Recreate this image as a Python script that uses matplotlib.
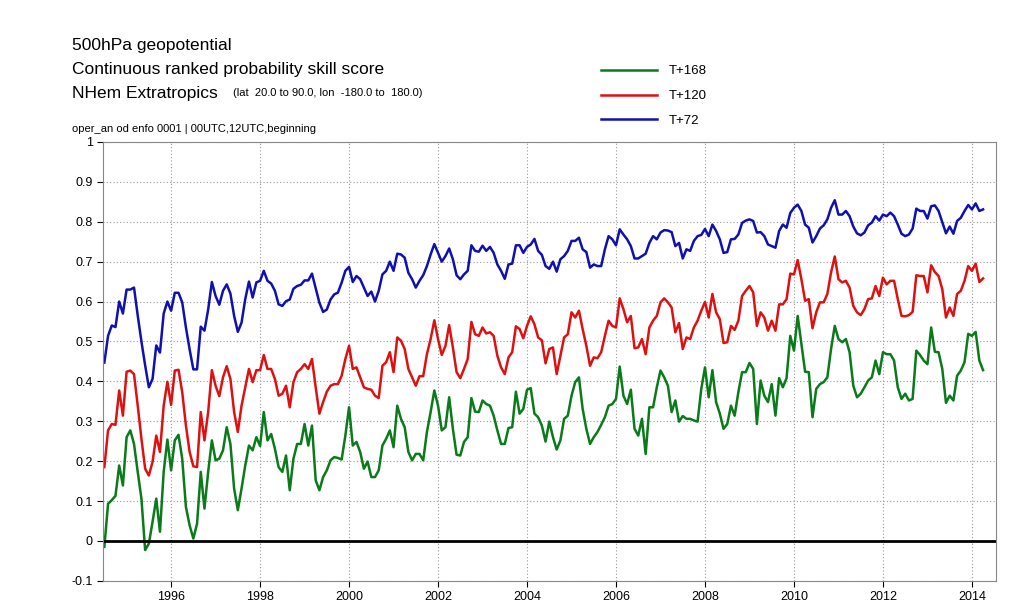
import numpy as np
import matplotlib
matplotlib.use("Agg")
import matplotlib.pyplot as plt
from matplotlib.lines import Line2D

plt.rcParams['font.family'] = ['Liberation Sans', 'DejaVu Sans']

# ================= Data (monthly, from Jul 1994) =================
start_year = 1994.5

t72 = [0.447, 0.514, 0.54, 0.536, 0.60, 0.57, 0.63, 0.63, 0.635, 0.565, 0.50, 0.44, 0.385, 0.406, 0.49, 0.472,
       0.57, 0.60, 0.577, 0.622, 0.622, 0.598, 0.535, 0.48, 0.43, 0.43, 0.537, 0.527, 0.58, 0.649, 0.614, 0.592,
       0.627, 0.643, 0.62, 0.564, 0.524, 0.547, 0.606, 0.65, 0.61, 0.648, 0.652, 0.677, 0.652, 0.645, 0.627, 0.593,
       0.589, 0.601, 0.605, 0.632, 0.639, 0.642, 0.653, 0.653, 0.67, 0.633, 0.597, 0.574, 0.58, 0.605, 0.618,
       0.6225, 0.6475, 0.677, 0.687, 0.649, 0.664, 0.656, 0.635, 0.614, 0.625, 0.60, 0.627, 0.668, 0.677, 0.70,
       0.677, 0.72, 0.718, 0.71, 0.672, 0.656, 0.635, 0.652, 0.666, 0.689, 0.718, 0.744, 0.722, 0.70, 0.714, 0.733,
       0.706, 0.666, 0.656, 0.668, 0.677, 0.741, 0.727, 0.725, 0.74, 0.727, 0.737, 0.722, 0.693, 0.677, 0.657,
       0.693, 0.695, 0.741, 0.741, 0.722, 0.737, 0.743, 0.757, 0.727, 0.717, 0.689, 0.682, 0.70, 0.675, 0.706, 0.714,
       0.727, 0.752, 0.752, 0.76, 0.731, 0.724, 0.685, 0.693, 0.689, 0.689, 0.731, 0.764, 0.756, 0.741, 0.781,
       0.768, 0.756, 0.739, 0.708, 0.708, 0.714, 0.72, 0.747, 0.764, 0.756, 0.773, 0.779, 0.778, 0.774, 0.739,
       0.747, 0.708, 0.731, 0.727, 0.752, 0.764, 0.767, 0.782, 0.764, 0.793, 0.777, 0.756, 0.722, 0.724, 0.756,
       0.757, 0.768, 0.797, 0.803, 0.806, 0.802, 0.773, 0.774, 0.764, 0.743, 0.739, 0.735, 0.777, 0.793, 0.785,
       0.822, 0.835,
       0.843, 0.827, 0.793, 0.785, 0.748, 0.764, 0.783, 0.791, 0.806, 0.835, 0.854, 0.818, 0.818, 0.827, 0.814,
       0.788, 0.771, 0.766, 0.773, 0.791, 0.798, 0.814, 0.803, 0.818, 0.814, 0.823, 0.814, 0.793, 0.77, 0.764,
       0.768, 0.783, 0.833, 0.827, 0.827, 0.808, 0.839, 0.841, 0.827, 0.799, 0.771, 0.788, 0.77, 0.802, 0.81,
       0.827, 0.842, 0.831, 0.846, 0.827, 0.831]

t120 = [0.185, 0.277, 0.293, 0.291, 0.377, 0.314, 0.424, 0.427, 0.418, 0.339, 0.256, 0.181, 0.164, 0.198, 0.264,
        0.223, 0.339, 0.399, 0.341, 0.427, 0.429, 0.373, 0.289, 0.223, 0.187, 0.185, 0.323, 0.252, 0.323, 0.428,
        0.389, 0.363, 0.41, 0.438, 0.406, 0.323, 0.273, 0.339, 0.385, 0.431, 0.398, 0.428, 0.428, 0.466, 0.431,
        0.431, 0.406, 0.364, 0.369, 0.389, 0.335, 0.398, 0.423, 0.431, 0.443, 0.431, 0.456, 0.385, 0.319, 0.348,
        0.374, 0.389, 0.393,
        0.393, 0.414, 0.456, 0.489, 0.431, 0.435, 0.41, 0.385, 0.381, 0.379, 0.364, 0.358, 0.439, 0.448, 0.473,
        0.423, 0.51, 0.502, 0.481, 0.431, 0.41, 0.389, 0.413, 0.413, 0.468, 0.506, 0.553, 0.506, 0.466, 0.489,
        0.541, 0.485, 0.423, 0.408, 0.431, 0.456, 0.549, 0.518, 0.514, 0.535, 0.52, 0.523, 0.514, 0.464, 0.435,
        0.418, 0.46, 0.473, 0.538, 0.531, 0.508, 0.539, 0.563, 0.543, 0.51, 0.503, 0.445, 0.481, 0.485, 0.418,
        0.464, 0.51,
        0.518, 0.573, 0.56, 0.577, 0.531, 0.489, 0.439, 0.46, 0.458, 0.473, 0.514, 0.552, 0.539, 0.535, 0.608,
        0.581, 0.548, 0.564, 0.483, 0.485, 0.506, 0.468, 0.535, 0.552, 0.564, 0.598, 0.608, 0.598, 0.585, 0.523,
        0.546, 0.481, 0.51, 0.506, 0.535, 0.552, 0.577, 0.599, 0.56, 0.619, 0.573, 0.556, 0.496, 0.498, 0.539,
        0.529, 0.552, 0.614, 0.627, 0.639, 0.623, 0.539, 0.573, 0.56, 0.527, 0.552, 0.527, 0.593, 0.593, 0.606,
        0.67, 0.668,
        0.704, 0.656, 0.602, 0.606, 0.533, 0.573, 0.598, 0.598, 0.619, 0.673, 0.713, 0.656, 0.648, 0.652, 0.635,
        0.589, 0.573, 0.566, 0.581, 0.606, 0.608, 0.639, 0.614, 0.66, 0.643, 0.652, 0.652, 0.606, 0.564, 0.563,
        0.566, 0.574, 0.666, 0.664, 0.664, 0.623, 0.691, 0.674, 0.664, 0.631, 0.56, 0.585, 0.564, 0.619, 0.627,
        0.652, 0.689, 0.677, 0.695, 0.649, 0.658]

t168 = [-0.015, 0.093, 0.102, 0.113, 0.189, 0.139, 0.26, 0.277, 0.243, 0.173, 0.106, -0.023, -0.007, 0.048,
        0.106, 0.023, 0.173, 0.254, 0.177, 0.252, 0.266, 0.206, 0.085, 0.039, 0.006, 0.043, 0.173, 0.081, 0.173,
        0.252, 0.202, 0.206, 0.227, 0.285, 0.243, 0.131, 0.077, 0.131, 0.189, 0.239, 0.227, 0.26, 0.238, 0.323,
        0.252, 0.268, 0.231, 0.185, 0.173, 0.214, 0.127, 0.206, 0.243, 0.243, 0.293, 0.239, 0.289, 0.152, 0.127,
        0.16, 0.177, 0.202, 0.21,
        0.208, 0.204, 0.264, 0.335, 0.239, 0.248, 0.223, 0.181, 0.199, 0.16, 0.16, 0.177, 0.239, 0.256, 0.277,
        0.235, 0.339, 0.306, 0.285, 0.223, 0.202, 0.218, 0.218, 0.202, 0.273, 0.323, 0.377, 0.339, 0.277, 0.285,
        0.36, 0.281, 0.216, 0.214, 0.248, 0.26, 0.358, 0.324, 0.323, 0.352, 0.343, 0.339, 0.314, 0.277, 0.243,
        0.243, 0.283, 0.285, 0.374, 0.319, 0.331, 0.379, 0.383, 0.319, 0.31, 0.289, 0.249, 0.299, 0.26, 0.229,
        0.252, 0.306,
        0.314, 0.364, 0.398, 0.41, 0.331, 0.281, 0.243, 0.26, 0.273, 0.291, 0.31, 0.339, 0.343, 0.356, 0.437,
        0.364, 0.343, 0.379, 0.281, 0.264, 0.306, 0.218, 0.335, 0.335, 0.385, 0.427, 0.41, 0.389, 0.323, 0.352,
        0.299, 0.313, 0.306, 0.306, 0.302, 0.299, 0.381, 0.435, 0.36, 0.428, 0.348, 0.319, 0.281, 0.293, 0.339,
        0.314, 0.373, 0.423, 0.423, 0.446, 0.431, 0.293, 0.402, 0.364, 0.348, 0.393, 0.314, 0.408, 0.385, 0.408,
        0.514, 0.477,
        0.564, 0.493, 0.424, 0.423, 0.31, 0.381, 0.393, 0.398, 0.41, 0.481, 0.539, 0.506, 0.498, 0.506, 0.473,
        0.389, 0.36, 0.369, 0.385, 0.402, 0.41, 0.452, 0.418, 0.473, 0.468, 0.468, 0.452, 0.385, 0.356, 0.369,
        0.352, 0.356, 0.477, 0.466, 0.452, 0.443, 0.535, 0.474, 0.473, 0.431, 0.346, 0.364, 0.352, 0.414, 0.427,
        0.448, 0.519, 0.514, 0.524, 0.452, 0.428]

series = [("T+168", t168, "#0a7a1a"), ("T+120", t120, "#dd1111"), ("T+72", t72, "#1010b0")]

# ================= Plot =================
fig = plt.figure(figsize=(10.2, 6.12), dpi=100)
ax = fig.add_axes([0.101, 0.051, 0.875, 0.717])

for name, vals, col in series:
    x = start_year + np.arange(len(vals)) / 12.0
    ax.plot(x, vals, color=col, lw=1.8, label=name)

ax.axhline(0, color="black", lw=2)
ax.set_xlim(1994.47, 2014.53)
ax.set_ylim(-0.1, 1.0)
ax.set_xticks(np.arange(1996, 2015, 2))
ax.set_yticks(np.arange(-0.1, 1.01, 0.1))
ax.set_yticklabels(["-0.1", "0", "0.1", "0.2", "0.3", "0.4", "0.5", "0.6", "0.7", "0.8", "0.9", "1"])
ax.tick_params(labelsize=9, length=4)
ax.grid(True, linestyle=(0, (1, 2)), color="#999999", lw=0.8)
for s in ax.spines.values():
    s.set_color("#888888")

fig.text(0.071, 0.918, "500hPa geopotential", fontsize=12.5)
fig.text(0.071, 0.879, "Continuous ranked probability skill score", fontsize=12.5)
fig.text(0.071, 0.840, "NHem Extratropics", fontsize=12.5)
fig.text(0.228, 0.843, "(lat  20.0 to 90.0, lon  -180.0 to  180.0)", fontsize=8)
fig.text(0.071, 0.785, "oper_an od enfo 0001 | 00UTC,12UTC,beginning", fontsize=8)

handles = [Line2D([], [], color=c, lw=1.8) for _, _, c in series]
fig.legend(handles, [n for n, _, _ in series], loc="upper left", bbox_to_anchor=(0.578, 0.913),
           frameon=False, handlelength=4.2, fontsize=9.5, labelspacing=0.95, handletextpad=0.9)

fig.savefig("out.png", dpi=100)
